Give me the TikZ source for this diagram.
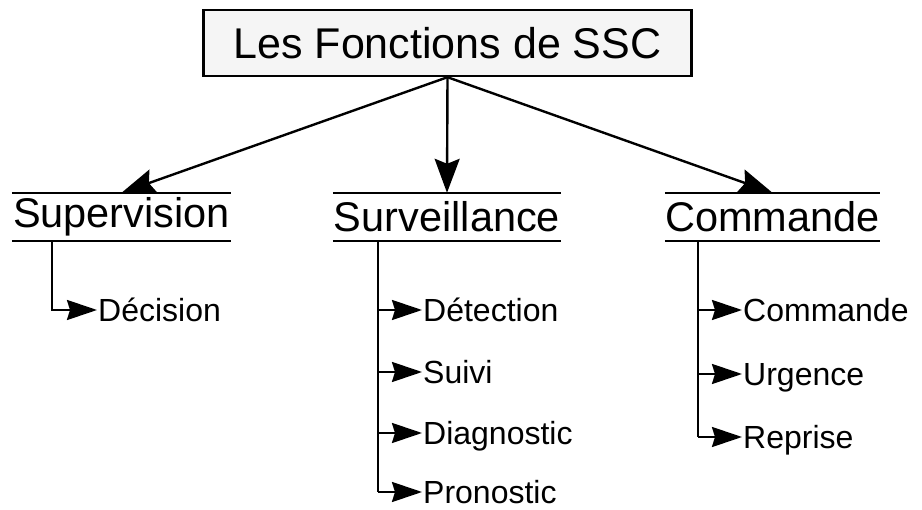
\documentclass[tikz,border=0pt]{standalone}
\usepackage{fontspec}
\setmainfont{Liberation Sans}
\usetikzlibrary{arrows.meta,calc}
\definecolor{boxfill}{HTML}{F5F5F5}
\tikzset{
  title/.style={draw=black,line width=2.4pt,fill=boxfill,minimum width=488pt,minimum height=66pt,inner sep=0pt,font=\fontsize{43}{50}\selectfont},
  head/.style={minimum height=48pt,inner sep=0pt,font=\fontsize{41.5}{48}\selectfont},
  item/.style={anchor=west,inner sep=1pt,font=\fontsize{32}{38}\selectfont,text height=23pt,text depth=0pt},
  bigarrow/.style={line width=2.4pt,arrows={-Stealth[length=34pt,width=25pt,inset=5pt]}},
  smallarrow/.style={line width=2.4pt,arrows={-Stealth[length=30pt,width=20pt,inset=3pt]}},
  rule/.style={line width=2.4pt}
}
\begin{document}
\begin{tikzpicture}[x=1pt,y=-1pt]
\useasboundingbox (0,0) rectangle (922,510);
\node[title] (t) at (447.5,43) {Les Fonctions de SSC};
\node[head,minimum width=219pt] (sup) at (121.5,217) {Supervision};
\node[head,minimum width=228pt] (sur) at (447,217) {Surveillance};
\node[head,minimum width=215pt] (com) at (772.5,217) {Commande};
\foreach \n in {sup,sur,com}{
  \draw[rule] (\n.north west) -- (\n.north east);
  \draw[rule] (\n.south west) -- (\n.south east);
}
\draw[bigarrow] (t.south) -- (sup.north);
\draw[bigarrow] (t.south) -- (sur.north);
\draw[bigarrow] (t.south) -- (com.north);
% Supervision
\coordinate (s1) at (52,241);
\node[item] (dec) at (97,310) {Décision};
\draw[smallarrow] (s1) |- (dec.west);
% Surveillance
\coordinate (s2) at (378,241);
\node[item] (det) at (422,310) {Détection};
\node[item] (sui) at (422,372) {Suivi};
\node[item] (dia) at (422,433) {Diagnostic};
\node[item] (pro) at (422,492) {Pronostic};
\draw[rule] (s2) -- (s2 |- pro.west);
\foreach \n in {det,sui,dia}{\draw[smallarrow] (s2 |- \n.west) -- (\n.west);}
\draw[smallarrow] (s2 |- pro.west) -- (pro.west);
% Commande
\coordinate (s3) at (698,241);
\node[item] (c1) at (742,310) {Commande};
\node[item] (urg) at (742,374) {Urgence};
\node[item] (rep) at (742,437) {Reprise};
\draw[rule] (s3) -- (s3 |- rep.west);
\foreach \n in {c1,urg,rep}{\draw[smallarrow] (s3 |- \n.west) -- (\n.west);}
\end{tikzpicture}
\end{document}
